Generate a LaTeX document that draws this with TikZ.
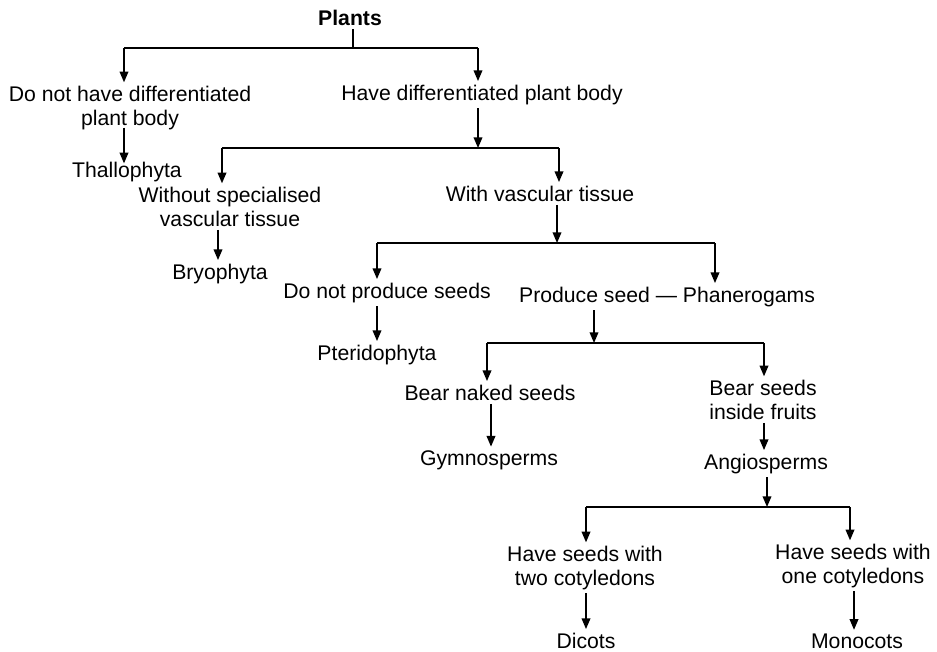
\documentclass[tikz,border=0pt]{standalone}
\usepackage{fontspec}
\setmainfont{Liberation Sans}
\usetikzlibrary{arrows.meta}
\begin{document}
\begin{tikzpicture}[x=0.75pt,y=-0.75pt,
  lbl/.style={anchor=base,align=center,inner sep=2.5pt,font=\fontsize{15.9pt}{17.8pt}\selectfont},
  link/.style={line width=1.1pt},
  arr/.style={line width=1.1pt,-{Triangle[length=8pt,width=6.5pt]}}]
\useasboundingbox[fill=white] (0,0) rectangle (937,651);
% nodes (two-line nodes are placed by the baseline of their last line)
\node[lbl,font=\fontsize{15.9pt}{17.8pt}\selectfont\bfseries] (plants) at (350,25) {Plants};
\node[lbl] (a1) at (130,125) {Do not have differentiated\\plant body};
\node[lbl] (a2) at (482,100) {Have differentiated plant body};
\node[lbl] (thal) at (127,177) {Thallophyta};
\node[lbl] (b1) at (230,226) {Without specialised\\vascular tissue};
\node[lbl] (b2) at (540,201) {With vascular tissue};
\node[lbl] (bryo) at (220,279) {Bryophyta};
\node[lbl] (c1) at (387,298) {Do not produce seeds};
\node[lbl] (c2) at (667,302) {Produce seed --- Phanerogams};
\node[lbl] (pter) at (377,360) {Pteridophyta};
\node[lbl] (d1) at (490,400) {Bear naked seeds};
\node[lbl] (d2) at (763,419) {Bear seeds\\inside fruits};
\node[lbl] (gymno) at (489,465) {Gymnosperms};
\node[lbl] (angio) at (766,469) {Angiosperms};
\node[lbl] (e1) at (585,585) {Have seeds with\\two cotyledons};
\node[lbl] (e2) at (853,583) {Have seeds with\\one cotyledons};
\node[lbl] (dicots) at (586,648) {Dicots};
\node[lbl] (mono) at (857,648) {Monocots};
% junction coordinates
\coordinate (j1) at (353,48);
\coordinate (j1l) at (124,48);
\coordinate (j1r) at (478,48);
\coordinate (j2) at (478,148);
\coordinate (j2l) at (222,148);
\coordinate (j2r) at (559,148);
\coordinate (j3) at (557,243);
\coordinate (j3l) at (377,243);
\coordinate (j3r) at (715,243);
\coordinate (j4) at (594,343);
\coordinate (j4l) at (487,343);
\coordinate (j4r) at (764,343);
\coordinate (j5) at (767,507);
\coordinate (j5l) at (586,507);
\coordinate (j5r) at (850,507);
% level 1
\draw[link] (plants.south -| j1) -- (j1);
\draw[link] (j1l) -- (j1r);
\draw[arr] (j1l) -- (j1l |- a1.north);
\draw[arr] (j1r) -- (j1r |- a2.north);
\draw[arr] ([yshift=4]a1.south -| j1l) -- ([yshift=-4]j1l |- thal.north);
% level 2
\draw[arr] (a2.south -| j2) -- (j2);
\draw[link] (j2l) -- (j2r);
\draw[arr] (j2l) -- (j2l |- b1.north);
\draw[arr] (j2r) -- (j2r |- b2.north);
\draw[arr] ([xshift=-3]b1.south -| j2l) -- ([xshift=-3]j2l |- bryo.north);
% level 3
\draw[arr] (b2.south -| j3) -- (j3);
\draw[link] (j3l) -- (j3r);
\draw[arr] (j3l) -- (j3l |- c1.north);
\draw[arr] (j3r) -- (j3r |- c2.north);
\draw[arr] (c1.south -| j3l) -- (j3l |- pter.north);
% level 4
\draw[arr] (c2.south -| j4) -- (j4);
\draw[link] (j4l) -- (j4r);
\draw[arr] (j4l) -- (j4l |- d1.north);
\draw[arr] (j4r) -- (j4r |- d2.north);
\draw[arr] ([xshift=3]d1.south -| j4l) -- ([xshift=3]j4l |- gymno.north);
\draw[arr] (d2.south -| j4r) -- (j4r |- angio.north);
% level 5
\draw[arr] (angio.south -| j5) -- (j5);
\draw[link] (j5l) -- (j5r);
\draw[arr] (j5l) -- (j5l |- e1.north);
\draw[arr] (j5r) -- (j5r |- e2.north);
\draw[arr] (e1.south -| j5l) -- (j5l |- dicots.north);
\draw[arr] ([xshift=3]e2.south -| j5r) -- ([xshift=3]j5r |- mono.north);
\end{tikzpicture}
\end{document}
